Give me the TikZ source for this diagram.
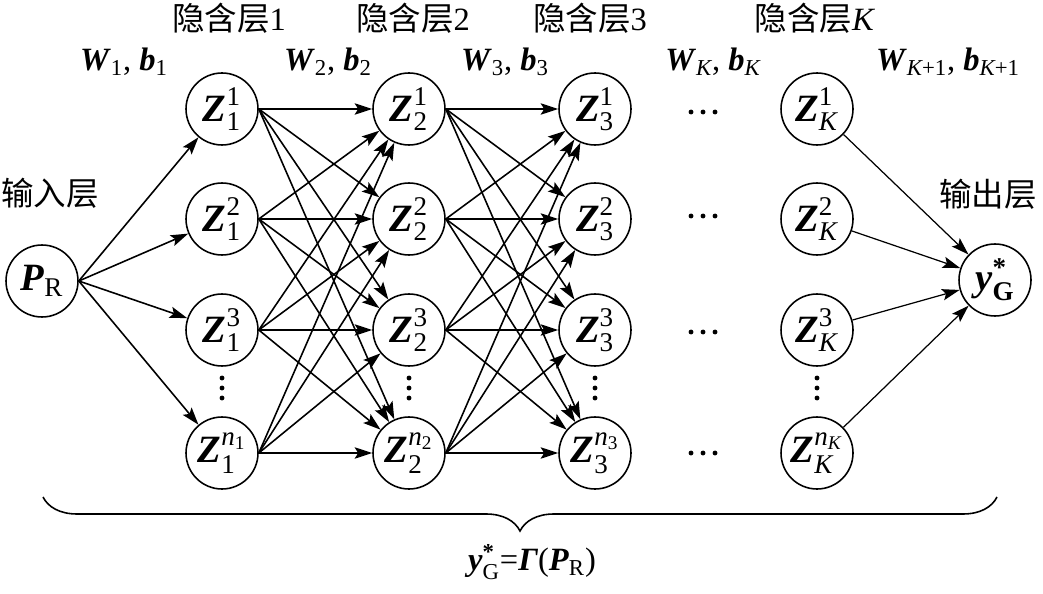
\documentclass[tikz,border=0pt]{standalone}
\usepackage{amsmath}
\usepackage{fontspec}
\setmainfont{Liberation Serif}
\newfontfamily\cjk{Noto Sans CJK SC}
\usetikzlibrary{arrows.meta, decorations.pathreplacing}
\newcommand{\bi}[1]{\textbf{\textit{#1}}}

\begin{document}
\begin{tikzpicture}[
  x=0.02cm, y=-0.02cm,
  font=\fontsize{18.5}{22}\selectfont,
  neuron/.style={draw, circle, line width=0.9pt, minimum size=1.44cm, inner sep=0pt,
    font=\fontsize{22}{26}\selectfont},
  link/.style={->, line width=0.9pt},
  outlink/.style={->, line width=0.7pt},
  lab/.style={inner sep=1pt},
  >={Stealth[length=10pt, width=6.5pt, inset=2pt]},
]
\useasboundingbox (0,0) rectangle (1043,594);

% input and output
\node[neuron] (pr) at (42,281) {\bi{P}$_{\text{R}}$};
\node[neuron] (yg) at (995,280) {$\bi{y}^{\textbf{*}\vphantom{I}}_{\textbf{G}}$};
\node[lab] (inlab) at (50,193) {\cjk 输入层};
\node[lab] (outlab) at (988,194) {\cjk 输出层};

% hidden layers
\foreach \l/\x/\sub in {1/222/1, 2/409/2, 3/595/3, K/817/\textit{K}} {
  \foreach \r/\y in {1/109, 2/219, 3/330}
    \node[neuron] (z\l-\r) at (\x,\y) {$\bi{Z}^{\text{\r}}_{\text{\sub}}$};
  \node[neuron] (z\l-4) at (\x,453) {$\bi{Z}^{\textit{n}_{\text{\sub}}}_{\text{\sub}}$};
  \foreach \dy in {-10,0,10}
    \fill (\x,388+\dy) circle (1.4pt);
}
\foreach \y in {112,216,332,453}
  \foreach \dx in {-12,0,12}
    \fill (703+\dx,\y) circle (1.4pt);

% layer titles
\node[lab] (h1) at (229,18) {{\cjk 隐含层}1};
\node[lab] (h2) at (413,18) {{\cjk 隐含层}2};
\node[lab] (h3) at (590,18) {{\cjk 隐含层}3};
\node[lab] (hk) at (815,18) {{\cjk 隐含层}\textit{K}};

% weights
\node[lab] (w1) at (124,62) {\bi{W}$_{\text{1}}$, \bi{b}$_{\text{1}}$};
\node[lab] (w2) at (328,62) {\bi{W}$_{\text{2}}$, \bi{b}$_{\text{2}}$};
\node[lab] (w3) at (505,62) {\bi{W}$_{\text{3}}$, \bi{b}$_{\text{3}}$};
\node[lab] (wk) at (713,62) {\bi{W}$_{\textit{K}}$, \bi{b}$_{\textit{K}}$};
\node[lab] (wk1) at (948,62) {\bi{W}$_{\textit{K}\text{+1}}$, \bi{b}$_{\textit{K}\text{+1}}$};

% connections
\foreach \i in {1,...,4} {
  \draw[link] (pr.east) -- (z1-\i);
  \draw[outlink] (zK-\i) -- (yg);
  \foreach \j in {1,...,4} {
    \draw[link] (z1-\i.east) -- (z2-\j);
    \draw[link] (z2-\i.east) -- (z3-\j);
  }
}

% overall mapping
\draw[decorate, decoration={brace, mirror, amplitude=0.68cm}, line width=0.9pt]
  (43,497) -- (997,497);
\node[lab] (gam) at (532,562) {$\bi{y}^{\textbf{*}\vphantom{I}}_{\text{G}}$=\bi{Γ}(\bi{P}$_{\text{R}}$)};
\end{tikzpicture}
\end{document}
